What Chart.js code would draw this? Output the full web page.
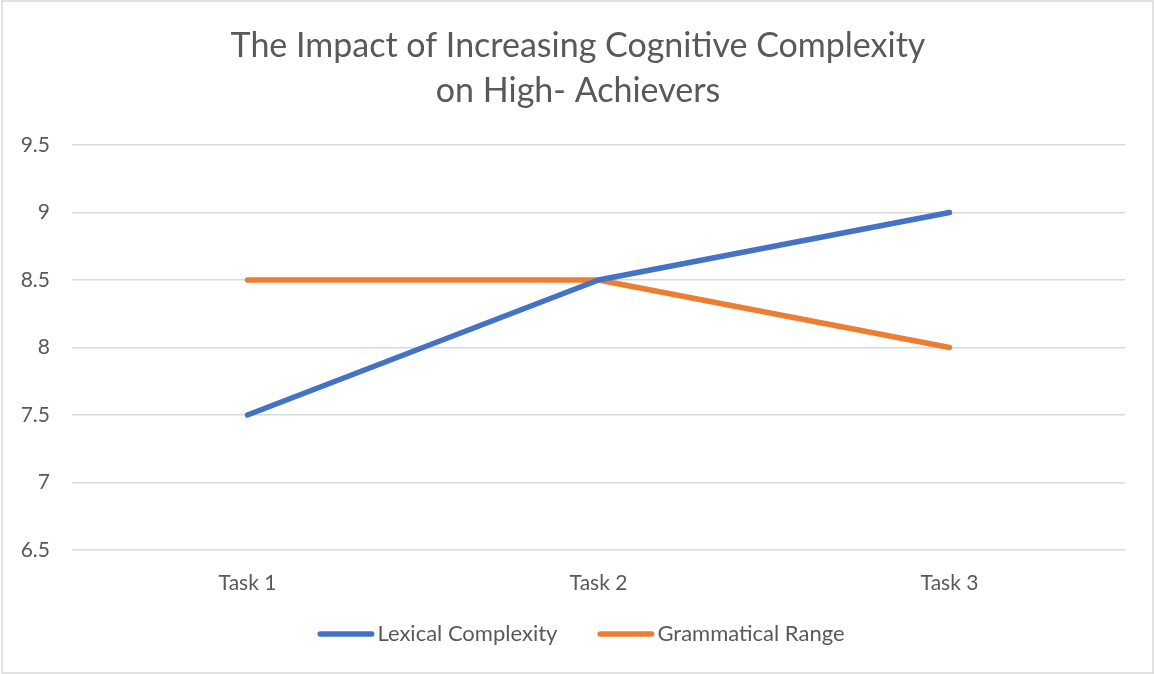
<!DOCTYPE html>
<html>
<head>
<meta charset="utf-8">
<script src="https://cdn.jsdelivr.net/npm/chart.js@4"></script>
<style>
  html, body { margin: 0; padding: 0; background: #ffffff; }
  #wrap { width: 1154px; height: 674px; position: relative; }
</style>
</head>
<body>
<div id="wrap"><canvas id="c" width="1154" height="674"></canvas></div>
<script>
const categories = ["Task 1", "Task 2", "Task 3"];
const lexicalComplexity = [7.5, 8.5, 9];
const grammaticalRange = [8.5, 8.5, 8];
const titleLines = ["The Impact of Increasing Cognitive Complexity", "on High- Achievers"];
const yMin = 6.5, yMax = 9.5, yStep = 0.5;

const FONT = "Lato, 'Open Sans', sans-serif";
const TEXT = "#595959";
const GRID = "#d9d9d9";
const LEGEND_FONT_SIZE = 22;
const TITLE_FONT_SIZE = 34;

const framePlugin = {
  id: 'frame',
  beforeDraw(chart) {
    const ctx = chart.ctx;
    ctx.save();
    ctx.fillStyle = '#ffffff';
    ctx.fillRect(0, 0, chart.width, chart.height);
    ctx.strokeStyle = GRID;
    ctx.lineWidth = 1.5;
    ctx.strokeRect(2, 1, chart.width - 3, chart.height - 2);
    ctx.restore();
  }
};

// Title drawn as real text, centred like the reference
const titlePlugin = {
  id: 'customTitle',
  afterDraw(chart) {
    const ctx = chart.ctx;
    ctx.save();
    ctx.font = TITLE_FONT_SIZE + "px " + FONT;
    ctx.fillStyle = TEXT;
    ctx.textAlign = 'center';
    ctx.textBaseline = 'middle';
    const lineH = 45;
    titleLines.forEach((t, i) => ctx.fillText(t, 578, 46.5 + i * lineH));
    ctx.restore();
  }
};

// Custom bottom legend: line swatch, small gap, label text
const legendPlugin = {
  id: 'customLegend',
  afterDraw(chart) {
    const ctx = chart.ctx;
    ctx.save();
    ctx.font = LEGEND_FONT_SIZE + "px " + FONT;
    ctx.textBaseline = 'middle';
    ctx.textAlign = 'left';
    const boxW = 57, boxH = 5.5, gap = 3, spacing = 40;
    const items = chart.data.datasets.map(ds => ({ text: ds.label, color: ds.borderColor, w: ctx.measureText(ds.label).width }));
    const total = items.reduce((s, it) => s + boxW + gap + it.w, 0) + spacing * (items.length - 1);
    let x = 581 - total / 2;
    const y = 634;
    items.forEach(it => {
      ctx.beginPath();
      ctx.lineCap = 'round';
      ctx.strokeStyle = it.color;
      ctx.lineWidth = boxH;
      ctx.moveTo(x + boxH / 2, y);
      ctx.lineTo(x + boxW - boxH / 2, y);
      ctx.stroke();
      ctx.fillStyle = TEXT;
      ctx.fillText(it.text, x + boxW + gap, y);
      x += boxW + gap + it.w + spacing;
    });
    ctx.restore();
  }
};

new Chart(document.getElementById('c'), {
  type: 'line',
  data: {
    labels: categories,
    datasets: [
      { label: "Lexical Complexity", data: lexicalComplexity, borderColor: "#4472C4", backgroundColor: "#4472C4", borderWidth: 5.5, borderCapStyle: 'round', borderJoinStyle: 'round', pointRadius: 0, tension: 0 },
      { label: "Grammatical Range", data: grammaticalRange, borderColor: "#ED7D31", backgroundColor: "#ED7D31", borderWidth: 5.5, borderCapStyle: 'round', borderJoinStyle: 'round', pointRadius: 0, tension: 0 }
    ]
  },
  options: {
    responsive: false,
    animation: false,
    devicePixelRatio: 1,
    layout: { padding: { left: 0, right: 29, top: 145, bottom: 59 } },
    plugins: {
      title: { display: false },
      legend: { display: false },
      tooltip: { enabled: false }
    },
    scales: {
      x: {
        offset: true,
        grid: { display: false, drawTicks: false },
        border: { display: false },
        ticks: { color: TEXT, font: { family: FONT, size: 21 }, padding: 21 },
        afterFit(scale) { scale.height = 65; }
      },
      y: {
        min: yMin, max: yMax,
        grid: { color: GRID, lineWidth: 1.5, drawTicks: false },
        border: { display: false },
        ticks: {
          stepSize: yStep, color: TEXT, font: { family: FONT, size: 21 }, padding: 22,
          callback: v => String(v)
        },
        afterFit(scale) { scale.width = 72; }
      }
    }
  },
  plugins: [framePlugin, titlePlugin, legendPlugin]
});
</script>
</body>
</html>
